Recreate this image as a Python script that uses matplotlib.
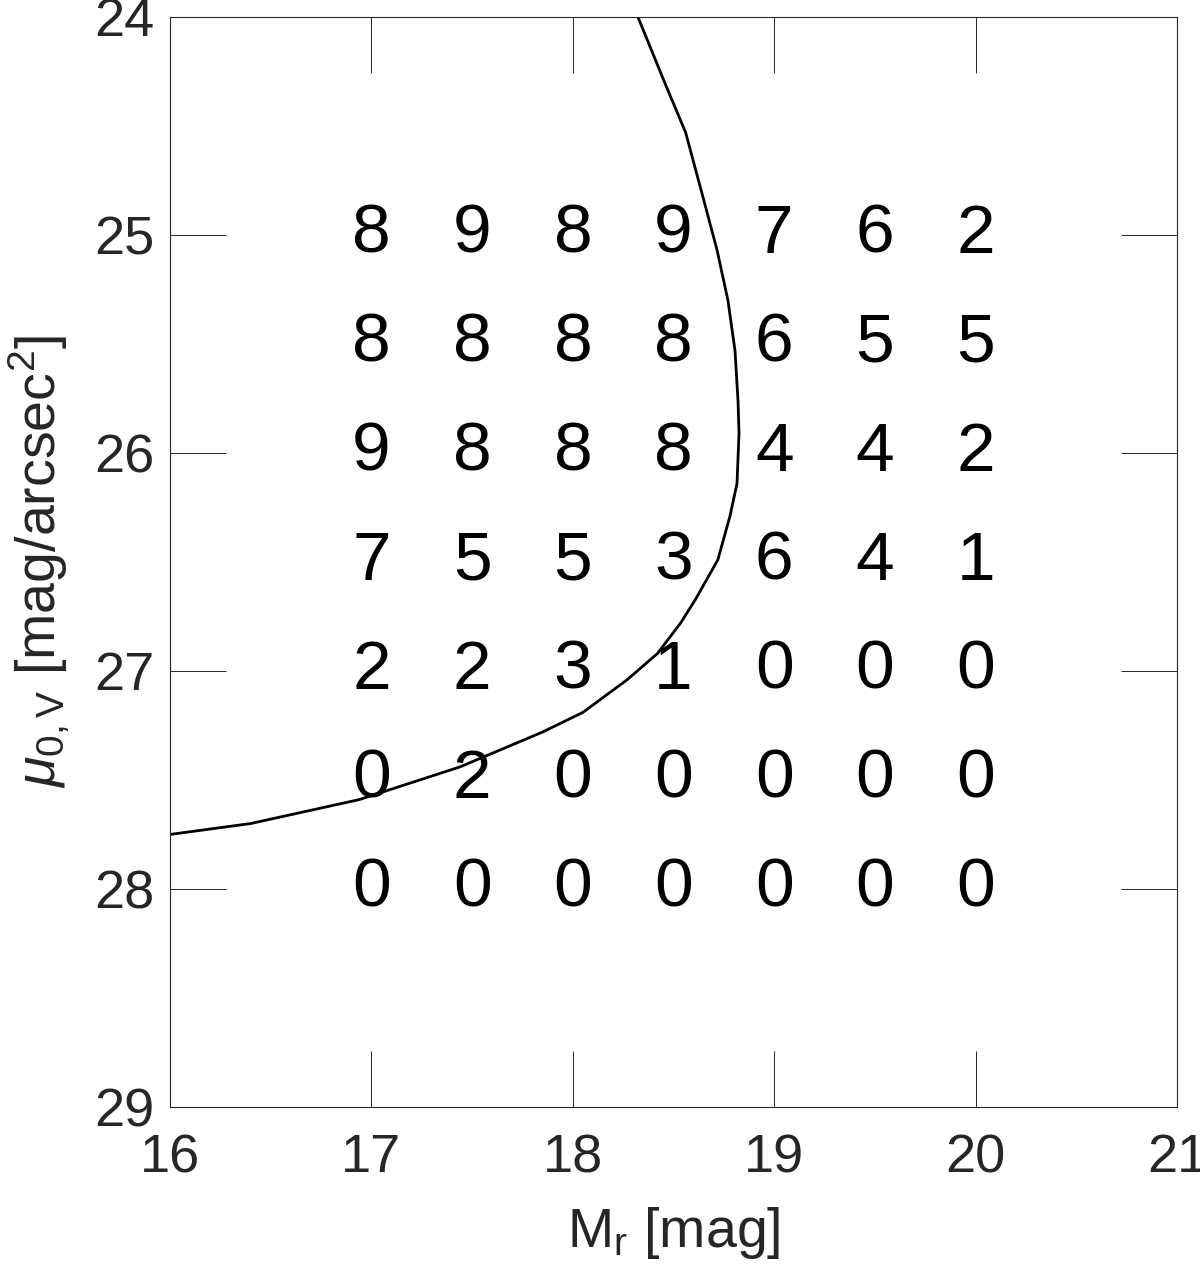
import numpy as np
import matplotlib
matplotlib.use('Agg')
import matplotlib.pyplot as plt

plt.rcParams['font.family'] = ['Liberation Sans', 'DejaVu Sans']
plt.rcParams['mathtext.fontset'] = 'custom'
plt.rcParams['mathtext.rm'] = 'Liberation Sans'
plt.rcParams['mathtext.it'] = 'Liberation Sans:italic'

# grid of counts: columns are M_r, rows are mu_0,V
mr_vals = [17.0, 17.5, 18.0, 18.5, 19.0, 19.5, 20.0]
mu_vals = [25.0, 25.5, 26.0, 26.5, 27.0, 27.5, 28.0]
counts = [
    [8, 9, 8, 9, 7, 6, 2],
    [8, 8, 8, 8, 6, 5, 5],
    [9, 8, 8, 8, 4, 4, 2],
    [7, 5, 5, 3, 6, 4, 1],
    [2, 2, 3, 1, 0, 0, 0],
    [0, 2, 0, 0, 0, 0, 0],
    [0, 0, 0, 0, 0, 0, 0],
]

# completeness curve
curve_x = [16.00, 16.40, 16.94, 17.44, 17.85, 18.05, 18.27, 18.42, 18.535, 18.61,
           18.72, 18.78, 18.815, 18.825, 18.82, 18.805, 18.77, 18.716, 18.65,
           18.56, 18.46, 18.323]
curve_y = [27.75, 27.70, 27.59, 27.44, 27.28, 27.19, 27.04, 26.92, 26.78, 26.67,
           26.49, 26.29, 26.14, 25.91, 25.76, 25.53, 25.30, 25.07, 24.84,
           24.53, 24.31, 24.00]

fig = plt.figure(figsize=(12, 12.75), dpi=100)
ax = fig.add_axes([0.1417, 0.1318, 0.8392, 0.8549])

ax.plot(curve_x, curve_y, color='black', lw=2.0)

for i, mu in enumerate(mu_vals):
    for j, mr in enumerate(mr_vals):
        ax.text(mr, mu, str(counts[i][j]), ha='center', va='center',
                fontsize=50, color='black')

ax.set_xlim(16, 21)
ax.set_ylim(29, 24)
ax.set_xticks([16, 17, 18, 19, 20, 21])
ax.set_yticks([24, 25, 26, 27, 28, 29])

edge = '#262626'
for s in ax.spines.values():
    s.set_color(edge)
    s.set_linewidth(0.8)
ax.tick_params(direction='in', length=40, width=0.7, color=edge,
               labelsize=39, labelcolor=edge, top=True, right=True)
ax.tick_params(axis='x', pad=19)
ax.tick_params(axis='y', pad=11)

ax.set_xlabel('M$_{\\rm r}$ [mag]', fontsize=40, color=edge)
ax.set_ylabel('$\\mu_{\\rm 0,V}$ [mag/arcsec$^{\\rm 2}$]', fontsize=40,
              color=edge)
ax.xaxis.set_label_coords(0.5, -0.09)
ax.yaxis.set_label_coords(-0.097, 0.5)

plt.savefig('out.png', dpi=100)
